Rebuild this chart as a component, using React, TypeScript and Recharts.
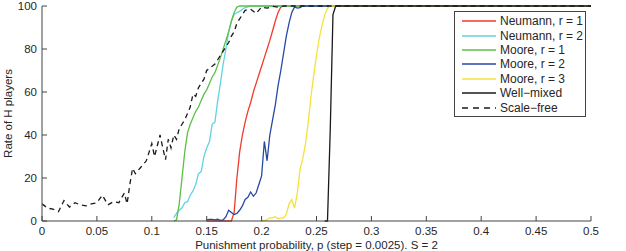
import { LineChart, Line, XAxis, YAxis, Legend, Label } from "recharts"

const pTicks = [0, 0.05, 0.1, 0.15, 0.2, 0.25, 0.3, 0.35, 0.4, 0.45, 0.5]
const rateTicks = [0, 20, 40, 60, 80, 100]

// Neumann neighbourhood, r = 1
const neumann1P = [0.15, 0.1725, 0.175, 0.1775, 0.18, 0.1825, 0.185, 0.1875, 0.19, 0.1925, 0.195, 0.1975, 0.2, 0.2025, 0.205, 0.2075, 0.21, 0.2125, 0.215, 0.2175, 0.22, 0.5]
const neumann1Rate = [0, 0, 4, 20, 32, 40, 46, 51, 55, 60, 64, 68, 72, 76, 80, 84, 88.5, 93, 97, 99.5, 100, 100]

// Neumann neighbourhood, r = 2
const neumann2P = [0.12, 0.1225, 0.125, 0.1275, 0.13, 0.1325, 0.135, 0.1375, 0.14, 0.1425, 0.145, 0.1475, 0.15, 0.1525, 0.155, 0.1575, 0.16, 0.1625, 0.165, 0.1675, 0.17, 0.1725, 0.175, 0.1775, 0.18, 0.1825, 0.185, 0.1875, 0.19, 0.5]
const neumann2Rate = [1.5, 3.5, 5, 6, 8.5, 9, 12, 14, 17, 22, 23, 30, 34, 37, 45, 46, 56, 64, 73, 80, 88, 93, 96, 97, 97.5, 98.5, 99.2, 99.6, 100, 100]

// Moore neighbourhood, r = 1
const moore1P = [0.12, 0.1225, 0.125, 0.1275, 0.13, 0.1325, 0.135, 0.1375, 0.14, 0.1425, 0.145, 0.1475, 0.15, 0.1525, 0.155, 0.1575, 0.16, 0.1625, 0.165, 0.1675, 0.17, 0.1725, 0.175, 0.1775, 0.18, 0.5]
const moore1Rate = [0, 0.5, 8, 20, 32, 41, 45, 48, 51, 53, 56, 59, 61, 64, 67, 69, 72.5, 76, 80, 84, 88, 93, 97, 99.5, 100, 100]

// Moore neighbourhood, r = 2
const moore2P = [0.15, 0.1525, 0.155, 0.1575, 0.16, 0.1625, 0.165, 0.1675, 0.17, 0.1725, 0.175, 0.1775, 0.18, 0.1825, 0.185, 0.1875, 0.19, 0.1925, 0.195, 0.1975, 0.2, 0.2025, 0.205, 0.2075, 0.21, 0.2125, 0.215, 0.2175, 0.22, 0.2225, 0.225, 0.2275, 0.23, 0.2325, 0.235, 0.2375, 0.5]
const moore2Rate = [0.5, 0.8, 0.8, 0.5, 0.8, 0.3, 0.5, 2, 5, 4, 3, 3.5, 5, 7, 10, 11, 13.5, 11.5, 13, 17, 21, 37, 28, 40, 47, 54, 63, 70, 78, 86, 92, 97, 99.6, 99, 99.2, 100, 100]

// Moore neighbourhood, r = 3
const moore3P = [0.2, 0.2025, 0.205, 0.2075, 0.21, 0.2125, 0.215, 0.2175, 0.22, 0.2225, 0.225, 0.2275, 0.23, 0.2325, 0.235, 0.2375, 0.24, 0.2425, 0.245, 0.2475, 0.25, 0.2525, 0.255, 0.2575, 0.26, 0.2625, 0.5]
const moore3Rate = [0, 0.3, 0.5, 1.5, 1.5, 2, 1, 1.5, 1.5, 3, 8, 10, 6, 13, 24, 29, 36, 46, 58, 68, 77, 85, 91, 96, 99, 100, 100]

// Well-mixed population
const wellMixedP = [0.2575, 0.26, 0.2625, 0.265, 0.2675, 0.5]
const wellMixedRate = [0, 0, 42, 96, 100, 100]

// Scale-free network
const scaleFreeP = [0, 0.005, 0.01, 0.015, 0.02, 0.025, 0.03, 0.035, 0.04, 0.045, 0.05, 0.055, 0.06, 0.065, 0.07, 0.075, 0.0775, 0.08, 0.0825, 0.085, 0.0875, 0.09, 0.095, 0.1, 0.1025, 0.105, 0.1075, 0.11, 0.1125, 0.115, 0.1175, 0.12, 0.1225, 0.125, 0.1275, 0.13, 0.1325, 0.135, 0.1375, 0.14, 0.1425, 0.145, 0.1475, 0.15, 0.1525, 0.155, 0.1575, 0.16, 0.1625, 0.165, 0.1675, 0.17, 0.1725, 0.175, 0.1775, 0.18, 0.1825, 0.185, 0.19, 0.195, 0.2, 0.205, 0.21, 0.215, 0.22, 0.5]
const scaleFreeRate = [8, 6, 5.5, 4.3, 9.5, 6.5, 8.5, 7.5, 7, 8, 8.5, 12, 7.5, 9, 8.5, 13, 8, 17, 24.5, 22, 23.5, 25, 28, 36, 30, 35, 40, 34, 28.5, 38, 34, 40, 38, 43, 45, 47, 50, 53, 59, 58, 62, 64, 66, 70, 71, 72, 73, 75, 77, 79, 81, 83, 86, 88, 92, 94, 96, 98, 98.5, 96.5, 99.5, 99, 99.8, 99.5, 100, 100]

const toPoints = (ps: number[], rates: number[]) => ps.map((p, i) => ({ p, rate: rates[i] }))

const series = [
  { name: "Neumann, r = 1", color: "#f23a2c", data: toPoints(neumann1P, neumann1Rate) },
  { name: "Neumann, r = 2", color: "#62d2e2", data: toPoints(neumann2P, neumann2Rate) },
  { name: "Moore, r = 1", color: "#5cbf48", data: toPoints(moore1P, moore1Rate) },
  { name: "Moore, r = 2", color: "#2848a6", data: toPoints(moore2P, moore2Rate) },
  { name: "Moore, r = 3", color: "#f4e23a", data: toPoints(moore3P, moore3Rate) },
  { name: "Well\u2212mixed", color: "#1a1a1a", data: toPoints(wellMixedP, wellMixedRate) },
  { name: "Scale\u2212free", color: "#1a1a1a", dash: "5 4", data: toPoints(scaleFreeP, scaleFreeRate) },
]

const FONT = "'Liberation Sans', Arial, sans-serif"
const AXIS = "#444"
const TEXT = "#262626"

function LegendBox() {
  return (
    <div
      style={{
        width: 132,
        height: 106,
        boxSizing: "border-box",
        border: `1px solid ${AXIS}`,
        background: "#fff",
        paddingTop: 2,
        fontFamily: FONT,
      }}
    >
      {series.map((s) => (
        <div key={s.name} style={{ display: "flex", alignItems: "center", height: 14.4 }}>
          <svg width={45} height={14} style={{ flex: "none" }}>
            <line x1={7} x2={41} y1={7} y2={7} stroke={s.color} strokeWidth={1.3} strokeDasharray={s.dash ? "6 5" : undefined} />
          </svg>
          <span style={{ fontSize: 12, color: TEXT, lineHeight: "14px", whiteSpace: "nowrap" }}>{s.name}</span>
        </div>
      ))}
    </div>
  )
}

export default function App() {
  return (
    <div style={{ position: "fixed", left: 0, top: 0, width: 626, height: 251, background: "#fff" }}>
      <LineChart width={626} height={251} margin={{ top: 6, right: 35, bottom: 0, left: 0 }} style={{ fontFamily: FONT }}>
        <XAxis
          dataKey="p"
          type="number"
          domain={[0, 0.5]}
          ticks={pTicks}
          allowDataOverflow
          height={30}
          tickSize={-5}
          tickMargin={11}
          stroke={AXIS}
          tick={{ fill: TEXT, fontSize: 11.5 }}
        >
          <Label value="Punishment probability, p (step = 0.0025). S = 2" position="insideBottom" offset={2} fill={TEXT} fontSize={11.5} />
        </XAxis>
        <XAxis xAxisId="top" orientation="top" dataKey="p" type="number" domain={[0, 0.5]} ticks={pTicks} height={0} tickSize={-5} tick={false} stroke={AXIS} />
        <YAxis
          type="number"
          domain={[0, 100]}
          ticks={rateTicks}
          width={42}
          tickSize={-5}
          tickMargin={10}
          stroke={AXIS}
          tick={{ fill: TEXT, fontSize: 11.5 }}
        >
          <Label
            content={({ viewBox }: any) => {
              const cx = 12
              const cy = viewBox.y + viewBox.height / 2
              return (
                <text x={cx} y={cy} transform={`rotate(-90 ${cx} ${cy})`} textAnchor="middle" fill={TEXT} fontSize={11.5}>
                  Rate of H players
                </text>
              )
            }}
          />
        </YAxis>
        <YAxis yAxisId="right" orientation="right" type="number" domain={[0, 100]} ticks={rateTicks} width={0} tickSize={-5} tick={false} stroke={AXIS} />
        {series.map((s) => (
          <Line
            key={s.name}
            data={s.data}
            dataKey="rate"
            name={s.name}
            type="linear"
            stroke={s.color}
            strokeWidth={1.3}
            strokeDasharray={s.dash}
            dot={false}
            activeDot={false}
            isAnimationActive={false}
          />
        ))}
        <Legend
          layout="vertical"
          align="center"
          verticalAlign="middle"
          content={() => <LegendBox />}
          wrapperStyle={{ left: 454, top: 11, width: 132, height: 106 }}
        />
      </LineChart>
    </div>
  )
}
